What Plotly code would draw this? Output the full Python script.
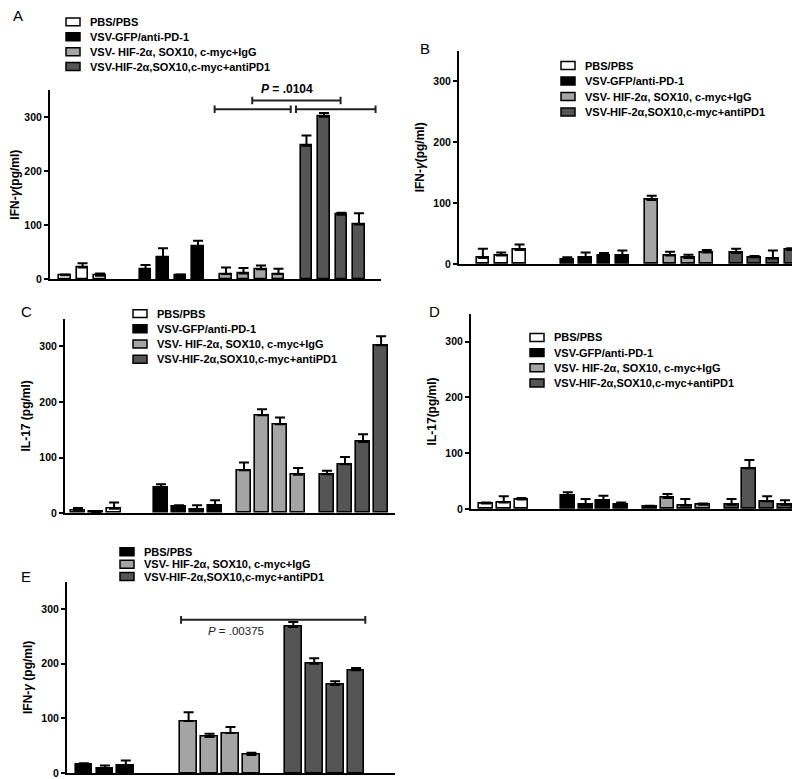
import plotly.graph_objects as go

FONT = "Liberation Sans, Arial, sans-serif"
W, H = 800, 779

SERIES = ["PBS/PBS", "VSV-GFP/anti-PD-1",
          "VSV- HIF-2α, SOX10, c-myc+IgG", "VSV-HIF-2α,SOX10,c-myc+antiPD1"]
COLORS = ["#ffffff", "#000000", "#a4a4a4", "#555555"]

# ---- Panel A: IFN-γ ----
A_VALUES = [[7, 21, 6], [18, 40, 7, 60], [9, 10, 18, 9], [247, 301, 119, 101]]
A_ERRORS = [[1, 8, 4], [8, 17, 1, 11], [12, 10, 7, 10], [19, 7, 4, 21]]
# ---- Panel B: IFN-γ ----
B_VALUES = [[10, 14, 23], [7, 10, 14, 14], [105, 14, 10, 19], [18, 11, 9, 23]]
B_ERRORS = [[15, 5, 9], [4, 9, 4, 8], [7, 6, 5, 4], [7, 2, 13, 3]]
# ---- Panel C: IL-17 ----
C_VALUES = [[5, 2, 8], [46, 12, 7, 13], [77, 176, 160, 69], [70, 88, 128, 302]]
C_ERRORS = [[4, 1, 11], [6, 2, 7, 10], [14, 11, 12, 12], [6, 13, 14, 16]]
# ---- Panel D: IL-17 ----
D_VALUES = [[10, 12, 17], [25, 8, 16, 8], [4, 20, 6, 8], [8, 73, 14, 8]]
D_ERRORS = [[2, 11, 3], [5, 10, 8, 4], [2, 7, 12, 2], [10, 15, 9, 8]]
# ---- Panel E: IFN-γ ----
E_SERIES = ["PBS/PBS", "VSV- HIF-2α, SOX10, c-myc+IgG", "VSV-HIF-2α,SOX10,c-myc+antiPD1"]
E_COLORS = ["#000000", "#a4a4a4", "#555555"]
E_VALUES = [[16, 9, 13], [95, 66, 73, 33], [267, 200, 161, 188]]
E_ERRORS = [[2, 5, 10], [16, 6, 11, 4], [9, 10, 7, 4]]

Y_TICKS = [0, 100, 200, 300]
Y_MAX = 350

PANELS = [
    dict(letter="A", ytitle="<b>IFN-<i>γ</i>(pg/ml)</b>", names=SERIES, colors=COLORS,
         values=A_VALUES, errors=A_ERRORS, gap=4.6, width=0.68,
         xpx=(42, 373), ypx=(273, 83), xrange=(-0.86, 18.06),
         letter_pos=(10, 8), legend_pos=(58, 14), legend_step=15),
    dict(letter="B", ytitle="<b>IFN-<i>γ</i>(pg/ml)</b>", names=SERIES, colors=COLORS,
         values=B_VALUES, errors=B_ERRORS, gap=4.6, width=0.69,
         xpx=(451, 797), ypx=(258, 43), xrange=(-1.3, 17.55),
         letter_pos=(417, 41), legend_pos=(553, 58), legend_step=15.6),
    dict(letter="C", ytitle="<b>IL-17 (pg/ml)</b>", names=SERIES, colors=COLORS,
         values=C_VALUES, errors=C_ERRORS, gap=4.6, width=0.8,
         xpx=(57, 387), ypx=(509, 313), xrange=(-0.72, 17.57),
         letter_pos=(18, 306), legend_pos=(125, 308), legend_step=15.3),
    dict(letter="D", ytitle="<b>IL-17(pg/ml)</b>", names=SERIES, colors=COLORS,
         values=D_VALUES, errors=D_ERRORS, gap=4.6, width=0.78,
         xpx=(463, 788), ypx=(505, 308), xrange=(-0.84, 17.42),
         letter_pos=(427, 306), legend_pos=(522, 332), legend_step=15.3),
    dict(letter="E", ytitle="<b>IFN-<i>γ</i> (pg/ml)</b>", names=E_SERIES, colors=E_COLORS,
         values=E_VALUES, errors=E_ERRORS, gap=5.0, width=0.8,
         xpx=(59, 387), ypx=(771, 578), xrange=(-0.81, 14.86),
         letter_pos=(18, 573), legend_pos=(112, 548), legend_step=12.5),
]


def px_x(p):
    return p / W


def px_y(p):
    return 1 - p / H


fig = go.Figure()
shapes = []
annotations = []
group_pos = {}

for k, P in enumerate(PANELS):
    ax = "" if k == 0 else str(k + 1)
    xref, yref = "x" + ax, "y" + ax
    positions = []
    for g, (name, color, vals, errs) in enumerate(zip(P["names"], P["colors"], P["values"], P["errors"])):
        xs = [g * P["gap"] + i for i in range(len(vals))]
        positions.append(xs)
        fig.add_trace(go.Bar(
            x=xs, y=vals, name=name, width=P["width"],
            marker=dict(color=color, line=dict(color="#000000", width=1.6)),
            error_y=dict(type="data", array=errs, arrayminus=[0] * len(errs), symmetric=False,
                         color="#000000", thickness=2, width=5),
            xaxis=xref, yaxis=yref, showlegend=False,
        ))
    group_pos[P["letter"]] = positions

    layout_x = dict(domain=[px_x(P["xpx"][0]), px_x(P["xpx"][1])], range=list(P["xrange"]),
                    showline=True, linecolor="#000", linewidth=2, showticklabels=False,
                    ticks="", showgrid=False, zeroline=False, anchor=yref, fixedrange=True)
    layout_y = dict(domain=[px_y(P["ypx"][0]), px_y(P["ypx"][1])], range=[0, Y_MAX],
                    tickvals=Y_TICKS, ticktext=[f"<b>{t}</b>" for t in Y_TICKS],
                    showline=True, linecolor="#000", linewidth=2, ticks="outside",
                    ticklen=4, tickwidth=2, tickcolor="#000", showgrid=False, zeroline=False,
                    tickfont=dict(family=FONT, size=10.5, color="#000"),
                    title=dict(text=P["ytitle"], font=dict(family=FONT, size=12, color="#000"),
                               standoff=6),
                    anchor=xref, fixedrange=True)
    fig.update_layout(**{"xaxis" + ax: layout_x, "yaxis" + ax: layout_y})

    # panel letter
    lx, ly = P["letter_pos"]
    annotations.append(dict(text=P["letter"], x=px_x(lx), y=px_y(ly), xref="paper", yref="paper",
                            xanchor="center", yanchor="middle", showarrow=False,
                            font=dict(family=FONT, size=15, color="#000")))
    # legend (swatches + labels)
    gx, gy = P["legend_pos"]
    for j, (name, color) in enumerate(zip(P["names"], P["colors"])):
        cy = gy + j * P["legend_step"]
        shapes.append(dict(type="rect", xref="paper", yref="paper",
                           x0=px_x(gx), x1=px_x(gx + 14), y0=px_y(cy - 4), y1=px_y(cy + 4),
                           fillcolor=color, line=dict(color="#000", width=1.5)))
        annotations.append(dict(text=f"<b>{name}</b>", x=px_x(gx + 22), y=px_y(cy), xref="paper",
                                yref="paper", xanchor="left", yanchor="middle", showarrow=False,
                                font=dict(family=FONT, size=11, color="#000")))


def bracket(xref, yref, x0, x1, y, cap):
    col = "#222"
    return [
        dict(type="line", xref=xref, yref=yref, x0=x0, x1=x1, y0=y, y1=y, line=dict(color=col, width=2)),
        dict(type="line", xref=xref, yref=yref, x0=x0, x1=x0, y0=y - cap, y1=y + cap, line=dict(color=col, width=2)),
        dict(type="line", xref=xref, yref=yref, x0=x1, x1=x1, y0=y - cap, y1=y + cap, line=dict(color=col, width=2)),
    ]


# Panel A significance brackets
gA = group_pos["A"]
g3c = sum(gA[2]) / len(gA[2])
g4c = sum(gA[3]) / len(gA[3])
shapes += bracket("x", "y", gA[2][0] - 0.65, gA[2][-1] + 0.7, 315, 7)
shapes += bracket("x", "y", gA[3][0] - 0.6, gA[3][-1] + 0.95, 315, 7)
shapes += bracket("x", "y", g3c, g4c + 0.45, 331, 7)
annotations.append(dict(text="<b><i>P</i> = .0104</b>", x=(g3c + g4c) / 2 - 0.3, y=px_y(82),
                        xref="x", yref="paper",
                        xanchor="center", yanchor="middle", showarrow=False,
                        font=dict(family=FONT, size=12, color="#000")))

# Panel E significance bracket
gE = group_pos["E"]
shapes += bracket("x5", "y5", gE[1][0] - 0.36, gE[2][-1] + 0.44, 280, 7)
annotations.append(dict(text="<i>P</i> = .00375", x=gE[1][0] + 2.27, y=260, xref="x5", yref="y5",
                        xanchor="center", yanchor="middle", showarrow=False,
                        font=dict(family=FONT, size=11.5, color="#222")))

fig.update_layout(
    width=W, height=H, margin=dict(l=0, r=0, t=0, b=0),
    paper_bgcolor="#ffffff", plot_bgcolor="#ffffff",
    shapes=shapes, annotations=annotations, showlegend=False,
    bargap=0, barmode="overlay",
    font=dict(family=FONT, color="#000"),
)

fig.write_html("out.html")
